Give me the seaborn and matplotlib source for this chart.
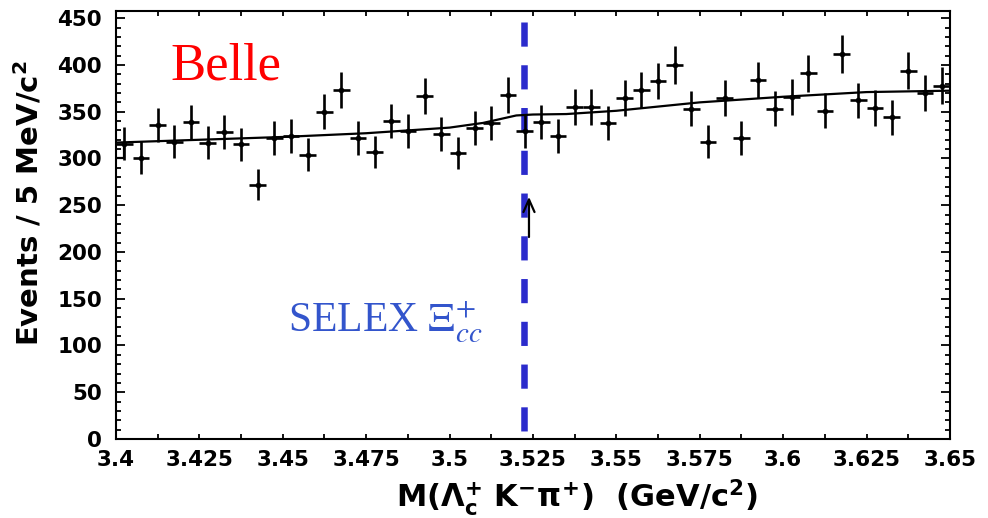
import numpy as np
import pandas as pd
import matplotlib
matplotlib.use("Agg")
import matplotlib.pyplot as plt
import seaborn as sns
from matplotlib.ticker import MultipleLocator, FixedLocator, FixedFormatter

# ---------------- data ----------------
bin_low = 3.400          # GeV/c^2
bin_width = 0.005        # 5 MeV/c^2
counts = [316, 301, 336, 318, 339, 317, 328, 315, 272, 322,
          324, 304, 350, 373, 322, 307, 340, 329, 367, 326,
          306, 333, 338, 368, 329, 339, 324, 355, 355, 338,
          365, 373, 383, 400, 353, 318, 365, 322, 384, 353,
          366, 391, 351, 412, 362, 354, 344, 394, 370, 378]
bin_centers = np.round(bin_low + bin_width * (np.arange(len(counts)) + 0.5), 4)
count_err = np.sqrt(counts)

fit_mass = [3.400, 3.425, 3.450, 3.475, 3.500, 3.510, 3.515, 3.520, 3.525,
            3.535, 3.550, 3.575, 3.600, 3.625, 3.650]
fit_events = [317, 320, 323, 327, 333, 338, 342, 346, 347,
              347.5, 351, 360, 366, 371, 372.5]
edge_mass = [3.400, 3.4025, 3.4025]
edge_events = [300, 300, 317]

x_ticks = [3.4, 3.425, 3.45, 3.475, 3.5, 3.525, 3.55, 3.575, 3.6, 3.625, 3.65]
x_tick_labels = ["3.4", "3.425", "3.45", "3.475", "3.5", "3.525", "3.55",
                 "3.575", "3.6", "3.625", "3.65"]
y_ticks = [0, 50, 100, 150, 200, 250, 300, 350, 400, 450]
y_tick_labels = ["0", "50", "100", "150", "200", "250", "300", "350", "400", "450"]

selex_mass = 3.5222
selex_line_top = 446
arrow_mass = 3.5238
arrow_tail, arrow_head = 216, 259

# ---------------- style ----------------
sns.set_theme(style="ticks")
plt.rcParams.update({
    "font.family": ["DejaVu Sans"],
    "mathtext.fontset": "custom",
    "mathtext.rm": "DejaVu Sans:bold",
    "mathtext.it": "DejaVu Sans:bold",
    "mathtext.bf": "DejaVu Sans:bold",
    "mathtext.sf": "DejaVu Sans:bold",
    "axes.linewidth": 1.5,
    "axes.edgecolor": "black",
})

fig = plt.figure(figsize=(9.88, 5.18), dpi=100)
fig.patch.set_facecolor("white")
ax = fig.add_axes([0.1174, 0.1525, 0.8441, 0.8268])
ax.set_facecolor("white")

# SELEX mass dashed line
ax.plot([selex_mass, selex_mass], [selex_line_top, 0], color="#2b2bcc",
        lw=4.7, linestyle=(0, (3.7, 2.85)), solid_capstyle="butt", zorder=1.5)

# fit curve
sns.lineplot(x=fit_mass, y=fit_events, ax=ax, color="black", lw=1.6,
             estimator=None, sort=False, zorder=2)
sns.lineplot(x=edge_mass, y=edge_events, ax=ax, color="black", lw=1.6,
             estimator=None, sort=False, zorder=2)

# data points with error bars
ax.errorbar(bin_centers, counts, yerr=count_err, xerr=bin_width / 2,
            fmt="none", ecolor="black", elinewidth=1.9, capsize=0, zorder=3)
sns.scatterplot(x=bin_centers, y=counts, ax=ax, color="black", s=14,
                edgecolor="black", zorder=4, legend=False)

# arrow
ax.annotate("", xy=(arrow_mass, arrow_head), xytext=(arrow_mass, arrow_tail),
            arrowprops=dict(arrowstyle="->,head_length=0.45,head_width=0.2",
                            lw=1.6, color="black", mutation_scale=20,
                            shrinkA=0, shrinkB=0), zorder=5)

# texts
ax.text(3.4162, 384, "Belle", color="red", fontsize=38,
        family="Liberation Serif", fontweight="normal", va="baseline", ha="left")
ax.text(3.4516, 114.8, r"SELEX $\Xi_{cc}^{+}$", color="#3355cc", fontsize=30,
        family="Liberation Serif", fontweight="normal", math_fontfamily="stix",
        va="baseline", ha="left")

# axes
ax.set_xlim(3.4, 3.65)
ax.set_ylim(0, 458)
ax.xaxis.set_major_locator(FixedLocator(x_ticks))
ax.xaxis.set_major_formatter(FixedFormatter(x_tick_labels))
ax.xaxis.set_minor_locator(MultipleLocator(0.0125))
ax.yaxis.set_major_locator(FixedLocator(y_ticks))
ax.yaxis.set_major_formatter(FixedFormatter(y_tick_labels))
ax.yaxis.set_minor_locator(MultipleLocator(10))

ax.tick_params(which="both", direction="in", top=True, right=True,
               color="black", width=1.3)
ax.tick_params(axis="x", which="both", length=3.8, pad=8)
ax.tick_params(axis="y", which="major", length=6.5, pad=10)
ax.tick_params(axis="y", which="minor", length=3.6)
for lab in ax.get_xticklabels() + ax.get_yticklabels():
    lab.set_fontsize(15.5)
    lab.set_fontweight("bold")
    lab.set_color("black")
for sp in ax.spines.values():
    sp.set_visible(True)
    sp.set_linewidth(1.5)
    sp.set_color("black")

ax.set_xlabel(r"M($\Lambda_{c}^{+}$ K$^{-}$$\pi^{+}$)  (GeV/c$^{2}$)",
              fontsize=22, fontweight="bold", color="black")
ax.xaxis.set_label_coords(0.553, -0.088)
ax.set_ylabel(r"Events / 5 MeV/c$^{2}$", fontsize=21, fontweight="bold",
              color="black")
ax.yaxis.set_label_coords(-0.086, 0.55)

fig.savefig("out.png", dpi=100, facecolor="white")
